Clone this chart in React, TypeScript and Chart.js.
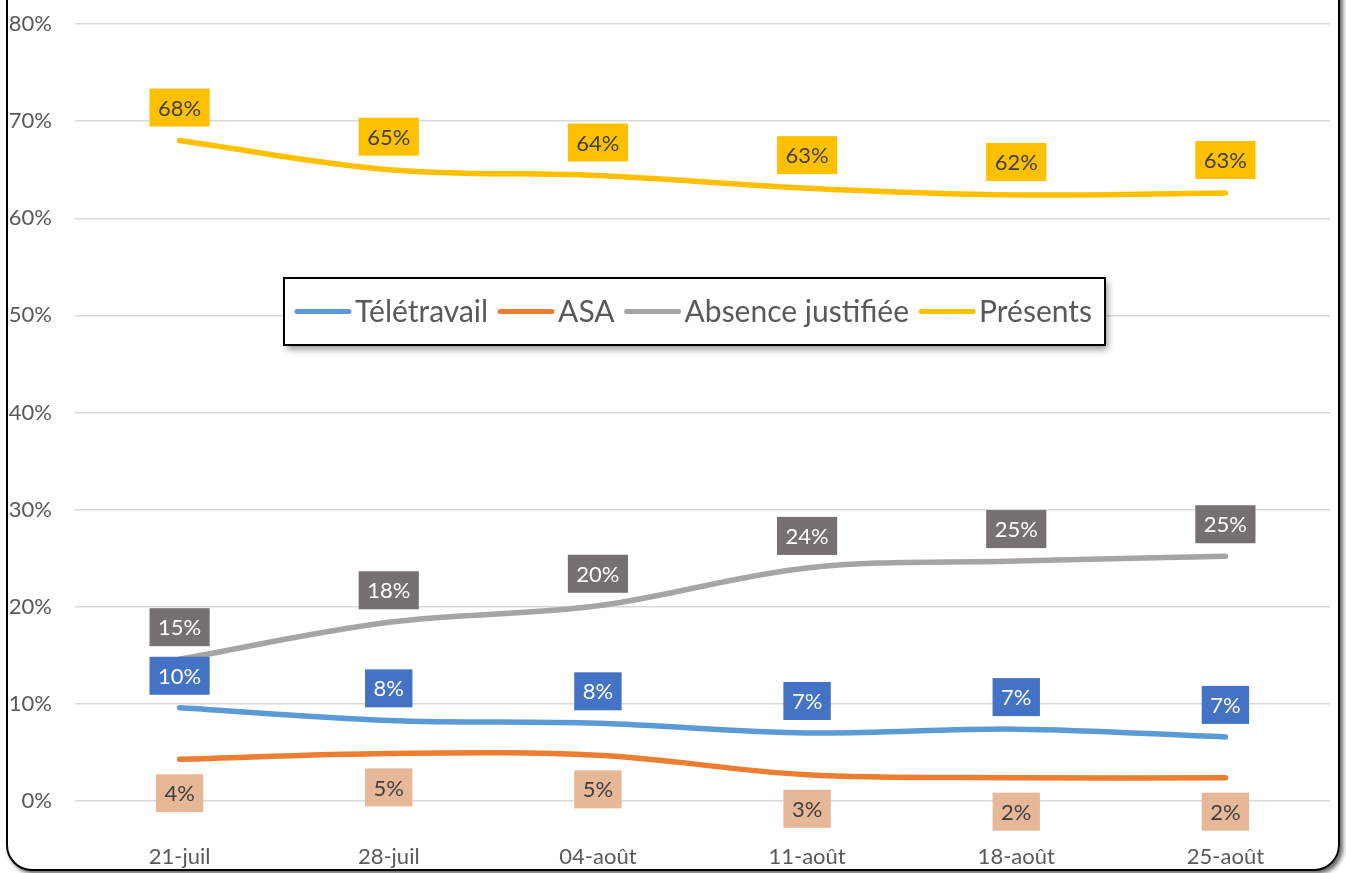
import React, { useEffect, useRef } from "react";
import { Chart, registerables } from "chart.js";
Chart.register(...registerables);

const categories = ["21-juil", "28-juil", "04-août", "11-août", "18-août", "25-août"];
const seriesNames = ["Télétravail", "ASA", "Absence justifiée", "Présents"];
const teletravail = [9.6, 8.3, 8.0, 7.0, 7.4, 6.6];
const asa = [4.3, 4.9, 4.7, 2.7, 2.4, 2.4];
const absence = [14.6, 18.4, 20.1, 24.0, 24.7, 25.2];
const presents = [68.0, 65.0, 64.4, 63.1, 62.4, 62.6];
const yTicks = [0, 10, 20, 30, 40, 50, 60, 70, 80];

const FONT = "Lato";
const lineColors = ["#5B9BD5", "#ED7D31", "#A5A5A5", "#FFC000"];
const labelStyles = [
  { bg: "#4472C4", color: "#FFFFFF", dy: -32 },
  { bg: "#E7B897", color: "#404040", dy: 34 },
  { bg: "#767171", color: "#FFFFFF", dy: -32 },
  { bg: "#FFC000", color: "#404040", dy: -33 },
];

const dataLabelPlugin = {
  id: "boxLabels",
  afterDatasetsDraw(chart: any) {
    const ctx = chart.ctx;
    ctx.save();
    ctx.font = `22px ${FONT}`;
    ctx.textAlign = "center";
    ctx.textBaseline = "middle";
    chart.data.datasets.forEach((ds: any, di: number) => {
      const st = labelStyles[di];
      const meta = chart.getDatasetMeta(di);
      meta.data.forEach((pt: any, i: number) => {
        const text = Math.round(ds.data[i]) + "%";
        const w = ctx.measureText(text).width + 17;
        const h = 38;
        const cx = pt.x;
        const cy = pt.y + st.dy;
        ctx.fillStyle = st.bg;
        ctx.fillRect(cx - w / 2, cy - h / 2, w, h);
        ctx.fillStyle = st.color;
        ctx.fillText(text, cx, cy + 1);
      });
    });
    ctx.restore();
  },
};

const boxLegendPlugin = {
  id: "boxLegend",
  afterDraw(chart: any) {
    const ctx = chart.ctx;
    const area = chart.chartArea;
    ctx.save();
    const fs = 30;
    ctx.font = `${fs}px ${FONT}`;
    const sym = 56, gapSym = 4, gapItem = 10, padL = 11, padR = 13;
    const items = chart.data.datasets.map((ds: any) => ({
      text: ds.label,
      color: ds.borderColor,
      w: ctx.measureText(ds.label).width,
    }));
    let total = 0;
    items.forEach((it: any, i: number) => {
      total += sym + gapSym + it.w + (i > 0 ? gapItem : 0);
    });
    const boxW = total + padL + padR;
    const boxH = 67;
    const cxBox = area.left + area.width / 2 - 8;
    const bx = cxBox - boxW / 2;
    const by = area.top + 254;
    ctx.shadowColor = "rgba(0,0,0,0.45)";
    ctx.shadowBlur = 7;
    ctx.shadowOffsetX = 3;
    ctx.shadowOffsetY = 4;
    ctx.fillStyle = "#FFFFFF";
    ctx.fillRect(bx, by, boxW, boxH);
    ctx.shadowColor = "transparent";
    ctx.shadowBlur = 0;
    ctx.shadowOffsetX = 0;
    ctx.shadowOffsetY = 0;
    ctx.strokeStyle = "#000000";
    ctx.lineWidth = 2;
    ctx.strokeRect(bx, by, boxW, boxH);
    const cy = by + boxH / 2;
    let x = bx + padL;
    items.forEach((it: any, i: number) => {
      if (i > 0) x += gapItem;
      ctx.strokeStyle = it.color;
      ctx.lineWidth = 5;
      ctx.lineCap = "round";
      ctx.beginPath();
      ctx.moveTo(x + 2, cy);
      ctx.lineTo(x + sym - 2, cy);
      ctx.stroke();
      x += sym + gapSym;
      ctx.fillStyle = "#595959";
      ctx.textAlign = "left";
      ctx.textBaseline = "middle";
      ctx.fillText(it.text, x, cy + 1);
      x += it.w;
    });
    ctx.restore();
  },
};

export default function App() {
  const ref = useRef<HTMLCanvasElement>(null);
  useEffect(() => {
    if (!ref.current) return;
    const seriesData = [teletravail, asa, absence, presents];
    const chart = new Chart(ref.current, {
      type: "line",
      data: {
        labels: categories,
        datasets: seriesData.map((d, i) => ({
          label: seriesNames[i],
          data: d,
          borderColor: lineColors[i],
          backgroundColor: lineColors[i],
          borderWidth: 5.5,
          pointRadius: 0,
          tension: 0.35,
          borderCapStyle: "round",
          borderJoinStyle: "round",
          fill: false,
        })),
      },
      options: {
        responsive: false,
        animation: false,
        layout: { padding: { left: 0, right: 16, top: 0, bottom: 0 } },
        plugins: {
          legend: { display: false },
          title: { display: false },
          tooltip: { enabled: false },
        },
        scales: {
          x: {
            offset: true,
            grid: { display: false, drawTicks: false },
            border: { display: false },
            ticks: { color: "#595959", font: { family: FONT, size: 22 }, padding: 43, maxRotation: 0 },
            afterFit: (s: any) => { s.height = 72; },
          },
          y: {
            min: 0,
            max: 80,
            afterBuildTicks: (s: any) => { s.ticks = yTicks.map((v) => ({ value: v })); },
            grid: { color: "#D9D9D9", lineWidth: 1.5, drawTicks: false },
            border: { display: false },
            ticks: {
              color: "#595959",
              font: { family: FONT, size: 22 },
              padding: 23,
              callback: (v: any) => v + "%",
            },
            afterFit: (s: any) => { s.width = 75; s.paddingTop = 24; s.paddingBottom = 0; },
          },
        },
      },
      plugins: [dataLabelPlugin, boxLegendPlugin],
    } as any);
    return () => chart.destroy();
  }, []);
  return (
    <div style={{ position: "absolute", left: 0, top: 0, width: 1346, height: 873, overflow: "hidden", background: "#FFFFFF" }}>
      <div
        style={{
          position: "absolute",
          left: 6,
          top: -40,
          width: 1334,
          height: 911,
          border: "2.5px solid #000000",
          borderRadius: 26,
          boxShadow: "3px 3px 4px rgba(0,0,0,0.6)",
          boxSizing: "border-box",
        }}
      />
      <canvas ref={ref} width={1346} height={873} style={{ position: "absolute", left: 0, top: 0 }} />
    </div>
  );
}
